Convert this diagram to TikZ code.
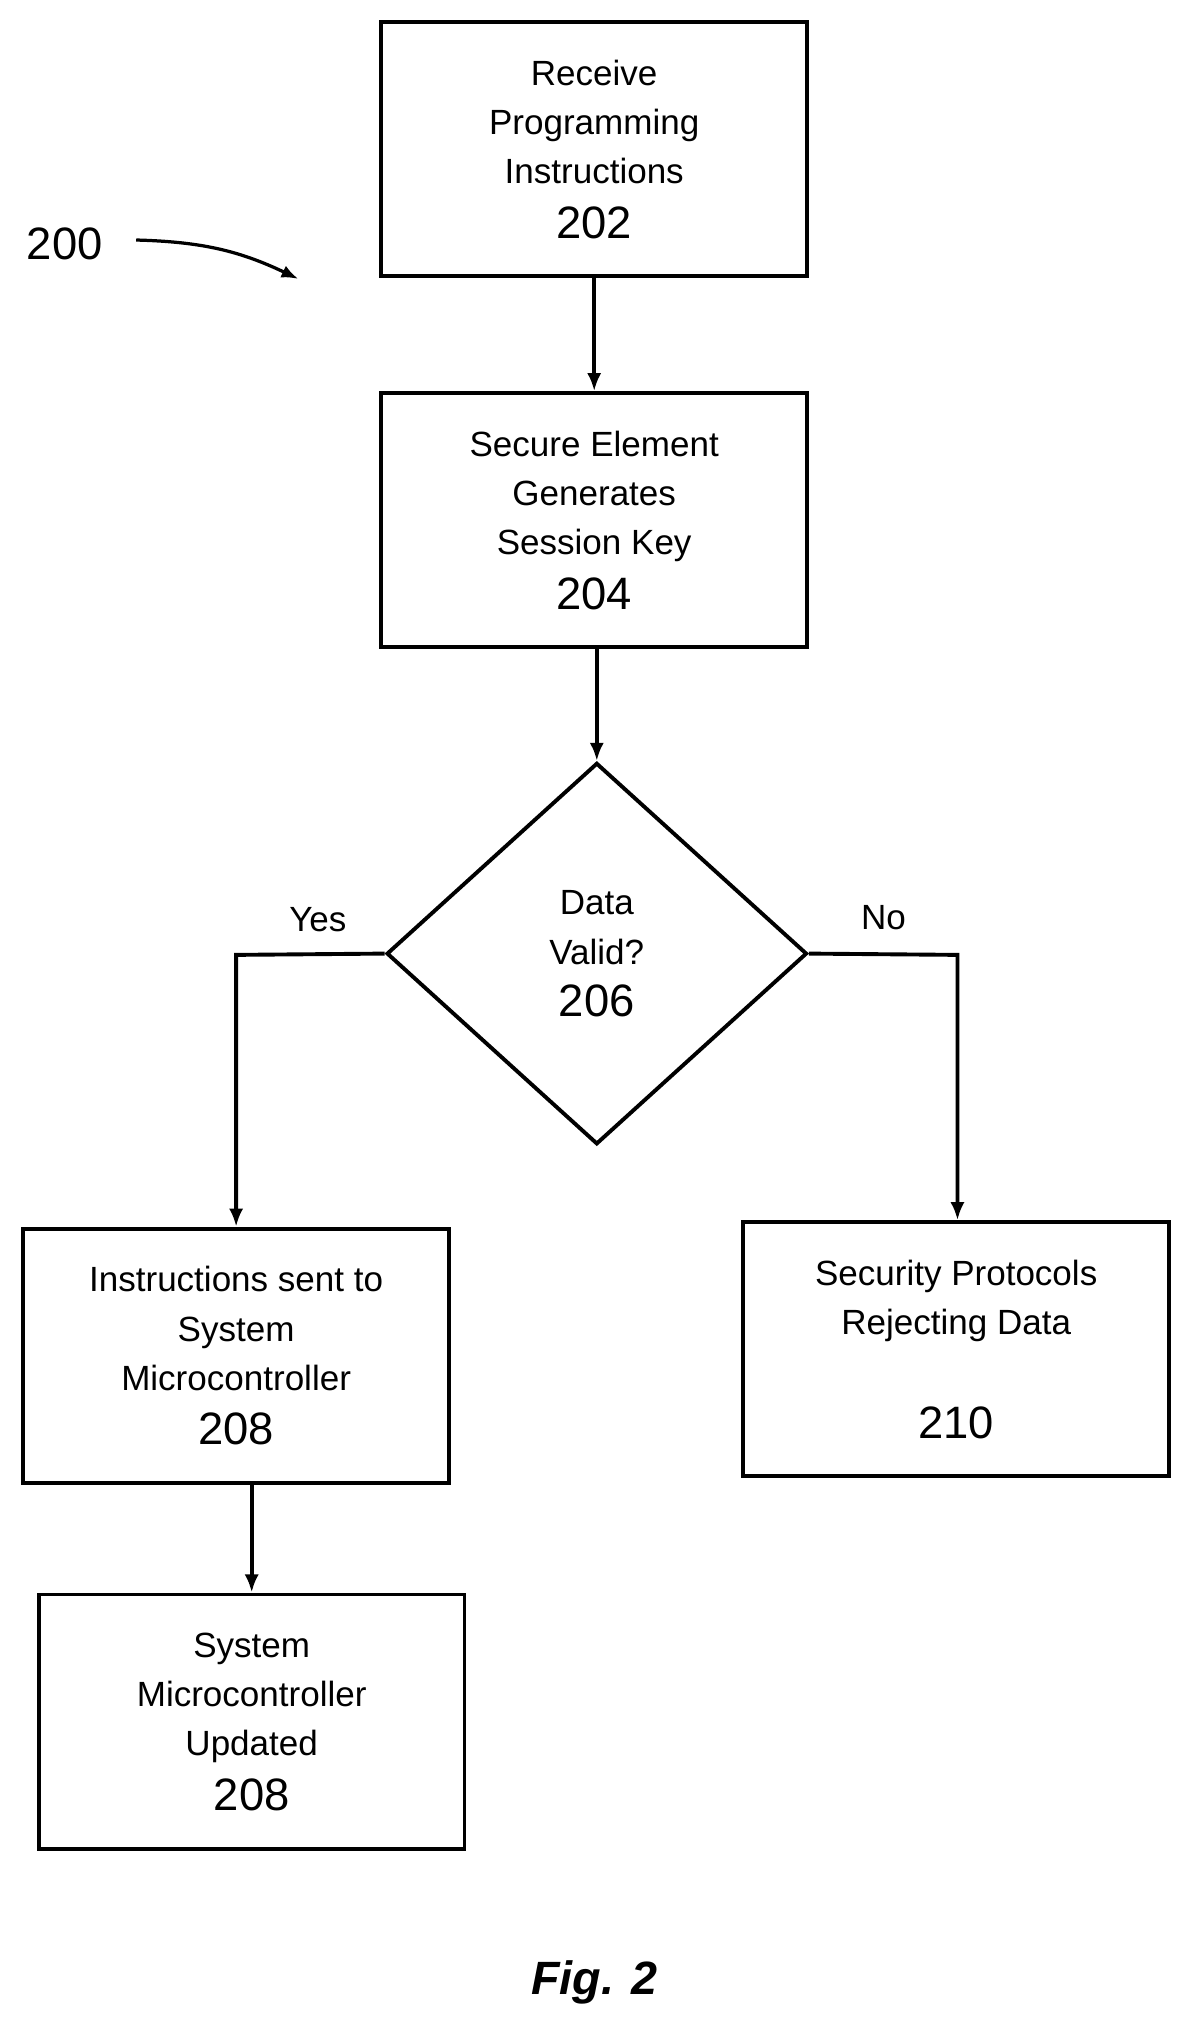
\documentclass[tikz,border=0pt]{standalone}
\usepackage{fontspec}
\setmainfont{Liberation Sans}
\usetikzlibrary{arrows.meta,shapes.geometric}
\begin{document}
\begin{tikzpicture}[x=1pt,y=-1pt,
  box/.style={draw,line width=3pt,minimum width=328pt,minimum height=196pt,align=center,inner sep=0pt,
    font=\fontsize{27}{38}\selectfont},
  num/.style={font=\fontsize{35}{38}\selectfont},
  arr/.style={line width=3pt,-{Latex[length=14pt,width=11pt]}},
  lbl/.style={font=\fontsize{27}{30}\selectfont}]
\useasboundingbox (0,0) rectangle (918,1567);
\node[box] (b202) at (458,115) {Receive\\Programming\\Instructions\\[4pt]{\fontsize{35}{38}\selectfont 202}};
\node[box] (b204) at (458,401) {Secure Element\\Generates\\Session Key\\[4pt]{\fontsize{35}{38}\selectfont 204}};
\node[draw,line width=3pt,diamond,minimum width=324pt,minimum height=294pt,inner sep=0pt,align=center,
  font=\fontsize{27}{38}\selectfont] (d206) at (460,735) {Data\\Valid?\\[2pt]{\fontsize{35}{38}\selectfont 206}};
\node[box] (b208) at (182,1045) {Instructions sent to\\System\\Microcontroller\\[4pt]{\fontsize{35}{38}\selectfont 208}};
\node[box] (b210) at (737,1040) {Security Protocols\\Rejecting Data\\[42pt]{\fontsize{35}{38}\selectfont 210}};
\node[box] (b208b) at (194,1327) {System\\Microcontroller\\Updated\\[4pt]{\fontsize{35}{38}\selectfont 208}};
\draw[arr] (b202.south) -- (b204.north);
\draw[arr] (b204.south -| d206.north) -- (d206.north);
\coordinate (yc) at (182,736);
\coordinate (nc) at (738,736);
\draw[arr] (d206.west) -- (yc) -- (b208.north);
\draw[arr] (d206.east) -- (nc) -- (nc |- b210.north);
\draw[arr] (b208.south -| b208b.north) -- (b208b.north);
\node[lbl] (yes) at (245,709) {Yes};
\node[lbl] (no) at (681,707) {No};
\node[font=\fontsize{35}{38}\selectfont] (n200) at (50,188) {200};
\coordinate (a200) at (230,215);
\draw[line width=2.5pt,-{Latex[length=13pt,width=10pt]}] (105,185) to[bend left=12] (a200);
\node[font=\fontsize{36}{40}\selectfont\bfseries\itshape] (fig) at (458,1528) {Fig. 2};
\end{tikzpicture}
\end{document}
